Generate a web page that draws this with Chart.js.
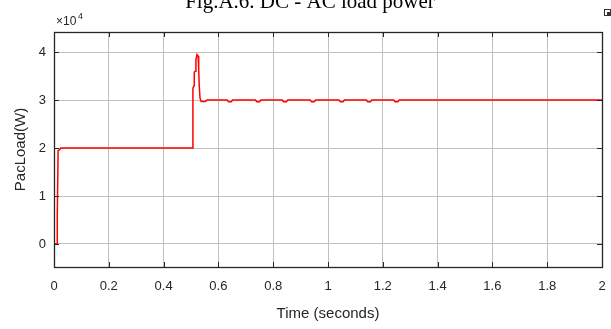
<!DOCTYPE html>
<html>
<head>
<meta charset="utf-8">
<script src="https://cdn.jsdelivr.net/npm/chart.js@4.4.1/dist/chart.umd.min.js"></script>
<style>
  html, body { margin: 0; padding: 0; background: #fff; }
  #wrap { position: relative; width: 611px; height: 329px; }
</style>
</head>
<body>
<div id="wrap"><canvas id="pacChart" width="611" height="329"></canvas></div>
<script>
// ---- data ----
const titleText = "Fig.A.6. DC - AC load power";
const xLabel = "Time (seconds)";
const yLabel = "PacLoad(W)";

const xTicks = [0, 0.2, 0.4, 0.6, 0.8, 1, 1.2, 1.4, 1.6, 1.8, 2];
const yTicks = [0, 10000, 20000, 30000, 40000];

// time (s) and load power (W)
const timeS = [
  0, 0.011, 0.011, 0.013, 0.015, 0.020, 0.025,
  0.505, 0.507, 0.511, 0.512, 0.515, 0.518, 0.522, 0.526, 0.528, 0.530, 0.533, 0.537, 0.552, 0.558,
  0.632, 0.637, 0.647, 0.652,
  0.735, 0.740, 0.750, 0.755,
  0.833, 0.838, 0.848, 0.853,
  0.935, 0.940, 0.950, 0.955,
  1.040, 1.045, 1.055, 1.060,
  1.140, 1.145, 1.155, 1.160,
  1.240, 1.245, 1.255, 1.260,
  2
];
const powerW = [
  0, 0, 6000, 6200, 19500, 19600, 20000,
  20000, 32500, 33000, 35800, 36000, 38500, 39500, 39200, 36500, 33000, 30400, 29700, 29700, 30000,
  30000, 29650, 29650, 30000,
  30000, 29650, 29650, 30000,
  30000, 29650, 29650, 30000,
  30000, 29650, 29650, 30000,
  30000, 29650, 29650, 30000,
  30000, 29650, 29650, 30000,
  30000, 29650, 29650, 30000,
  30000
];

const points = timeS.map((t, i) => ({ x: t, y: powerW[i] }));

const labelFont = "Liberation Sans, Arial, sans-serif";
const textColor = "#262626";

// frame, inward tick marks, exponent and title
const matlabDecor = {
  id: "matlabDecor",
  afterDraw(chart) {
    const { ctx, chartArea: a, scales } = chart;
    ctx.save();
    ctx.strokeStyle = "#262626";
    ctx.lineWidth = 1;
    const tl = 5;
    ctx.beginPath();
    xTicks.forEach(v => {
      const px = Math.round(scales.x.getPixelForValue(v)) + 0.5;
      ctx.moveTo(px, a.bottom); ctx.lineTo(px, a.bottom - tl);
      ctx.moveTo(px, a.top); ctx.lineTo(px, a.top + tl);
    });
    yTicks.forEach(v => {
      const py = Math.round(scales.y.getPixelForValue(v)) + 0.5;
      ctx.moveTo(a.left, py); ctx.lineTo(a.left + tl, py);
      ctx.moveTo(a.right, py); ctx.lineTo(a.right - tl, py);
    });
    ctx.stroke();
    ctx.lineWidth = 1.3;
    ctx.strokeRect(Math.round(a.left) + 0.5, Math.round(a.top) + 0.5,
                   Math.round(a.right - a.left), Math.round(a.bottom - a.top));

    // x10^4
    ctx.fillStyle = textColor;
    ctx.textBaseline = "alphabetic";
    ctx.textAlign = "left";
    ctx.font = "12px " + labelFont;
    ctx.fillText("\u00d710", a.left + 2, a.top - 7);
    ctx.font = "9px " + labelFont;
    ctx.fillText("4", a.left + 24, a.top - 13);

    // little export icon in the corner
    ctx.strokeStyle = "#333";
    ctx.lineWidth = 1;
    ctx.strokeRect(604.5, 9.5, 6, 6);
    ctx.fillStyle = "#333";
    ctx.fillRect(607, 12, 3, 3);

    // clipped caption above the figure
    ctx.fillStyle = "#000";
    ctx.textAlign = "center";
    ctx.font = "21px Liberation Serif, Times New Roman, serif";
    ctx.fillText(titleText, 310, 8);
    ctx.restore();
  }
};

const ctx = document.getElementById("pacChart").getContext("2d");
new Chart(ctx, {
  type: "line",
  data: {
    datasets: [{
      data: points,
      borderColor: "#ff0000",
      borderWidth: 1.5,
      pointRadius: 0,
      fill: false,
      tension: 0
    }]
  },
  options: {
    responsive: false,
    animation: false,
    layout: { padding: { top: 32, right: 9, left: 0, bottom: 0 } },
    plugins: {
      legend: { display: false },
      tooltip: { enabled: false }
    },
    scales: {
      x: {
        type: "linear",
        min: 0,
        max: 2,
        afterBuildTicks: s => { s.ticks = xTicks.map(v => ({ value: v })); },
        afterFit: s => { s.height = 62; s.paddingLeft = 0; s.paddingRight = 0; },
        ticks: {
          color: textColor,
          font: { family: labelFont, size: 13 },
          padding: 12,
          maxRotation: 0,
          autoSkip: false,
          callback: v => String(v)
        },
        grid: { color: "#c0c0c0", lineWidth: 1, drawTicks: false },
        border: { display: false },
        title: {
          display: true,
          text: xLabel,
          color: textColor,
          font: { family: labelFont, size: 15 },
          padding: { top: 4, bottom: 6 }
        }
      },
      y: {
        type: "linear",
        min: -4800,
        max: 44200,
        afterBuildTicks: s => { s.ticks = yTicks.map(v => ({ value: v })); },
        afterFit: s => { s.width = 54; s.paddingTop = 0; s.paddingBottom = 0; },
        ticks: {
          color: textColor,
          font: { family: labelFont, size: 13 },
          padding: 8,
          callback: v => String(v / 10000)
        },
        grid: { color: "#c0c0c0", lineWidth: 1, drawTicks: false },
        border: { display: false },
        title: {
          display: true,
          text: yLabel,
          color: textColor,
          font: { family: labelFont, size: 15 },
          padding: { top: 12, bottom: 4 }
        }
      }
    }
  },
  plugins: [matlabDecor]
});
</script>
</body>
</html>
